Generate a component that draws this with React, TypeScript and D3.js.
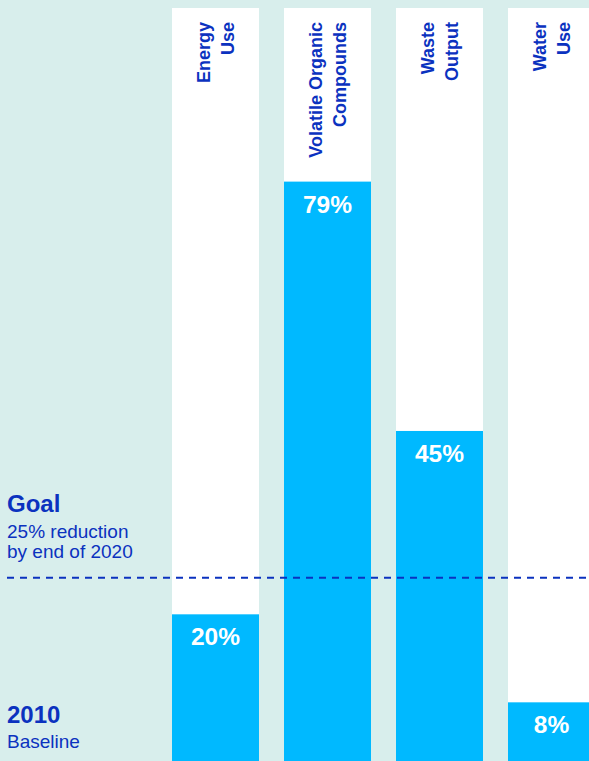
import React from "react";
import * as d3 from "d3";

const categories: string[][] = [
  ["Energy", "Use"],
  ["Volatile Organic", "Compounds"],
  ["Waste", "Output"],
  ["Water", "Use"],
];
const values: number[] = [20, 79, 45, 8];
const goalValue = 25;
const goalTitle = "Goal";
const goalLines = ["25% reduction", "by end of 2020"];
const baseTitle = "2010";
const baseSub = "Baseline";

const W = 589;
const H = 761;
const BG = "#d8eeec";
const BAR = "#00b9ff";
const INK = "#0b32bf";
const FONT = "'Liberation Sans', Arial, Helvetica, sans-serif";

export default function App() {
  const keys = categories.map((c) => c.join(" "));
  const x = d3.scaleBand<string>().domain(keys).range([172, 595]).paddingInner(25 / 112).paddingOuter(0);
  const y = d3.scaleLinear().domain([0, 100]).range([H, H - 733.4]);
  const colTop = 8;
  const goalY = y(goalValue);

  return (
    <svg
      width={W}
      height={H}
      style={{ position: "absolute", left: 0, top: 0, display: "block" }}
      fontFamily={FONT}
    >
      <rect x={0} y={0} width={W} height={H} fill={BG} />
      {keys.map((k, i) => {
        const x0 = x(k)!;
        const bw = x.bandwidth();
        const cx = x0 + bw / 2;
        const top = y(values[i]);
        return (
          <g key={k}>
            <rect x={x0} y={colTop} width={bw} height={H - colTop} fill="#ffffff" />
            <rect x={x0} y={top} width={bw} height={H - top} fill={BAR} />
            <g transform={`translate(${cx},22) rotate(-90)`}>
              {categories[i].map((line, j) => (
                <text
                  key={j}
                  x={0}
                  y={j === 0 ? -6 : 18}
                  textAnchor="end"
                  fontSize={18}
                  fontWeight="bold"
                  fill={INK}
                >
                  {line}
                </text>
              ))}
            </g>
            <text
              x={cx}
              y={top + 31}
              textAnchor="middle"
              fontSize={24.5}
              fontWeight="bold"
              fill="#ffffff"
            >
              {`${values[i]}%`}
            </text>
          </g>
        );
      })}
      <line
        x1={7}
        x2={W}
        y1={goalY}
        y2={goalY}
        stroke={INK}
        strokeWidth={2}
        strokeDasharray="7 6"
      />
      <text x={7} y={512} fontSize={24} fontWeight="bold" fill={INK}>
        {goalTitle}
      </text>
      {goalLines.map((l, i) => (
        <text key={l} x={7} y={538 + i * 20} fontSize={19} fill={INK}>
          {l}
        </text>
      ))}
      <text x={7} y={723} fontSize={24} fontWeight="bold" fill={INK}>
        {baseTitle}
      </text>
      <text x={7} y={748} fontSize={19} fill={INK}>
        {baseSub}
      </text>
    </svg>
  );
}
